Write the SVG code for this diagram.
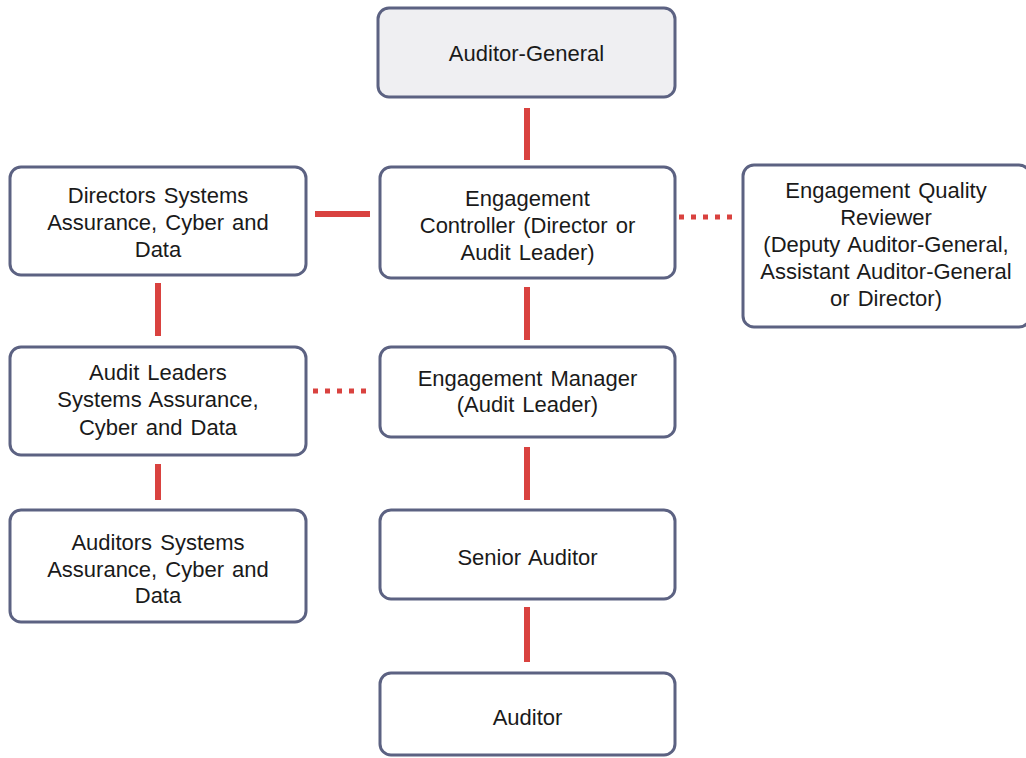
<svg xmlns="http://www.w3.org/2000/svg" width="1026" height="758" viewBox="0 0 1026 758">
<style>
.box{fill:#ffffff;stroke:#5c6282;stroke-width:3}
.top{fill:#efeff2}
.t{font-family:"Liberation Sans",Arial,sans-serif;font-size:22px;word-spacing:2px;fill:#1a1a1a;text-anchor:middle}
.c{stroke:#d9423f;stroke-width:6;fill:none}
.d{stroke:#d9423f;stroke-width:5;fill:none;stroke-dasharray:5 7}
</style>
<rect width="1026" height="758" fill="#ffffff"/>
<g id="connectors">
<line class="c" x1="527" y1="108" x2="527" y2="160"/>
<line class="c" x1="315" y1="214" x2="370" y2="214"/>
<line class="d" x1="679" y1="217" x2="734" y2="217"/>
<line class="c" x1="527" y1="287" x2="527" y2="340"/>
<line class="c" x1="158" y1="283" x2="158" y2="336"/>
<line class="d" x1="313" y1="391" x2="368" y2="391"/>
<line class="c" x1="158" y1="464" x2="158" y2="500"/>
<line class="c" x1="527" y1="447" x2="527" y2="500"/>
<line class="c" x1="527" y1="607" x2="527" y2="662"/>
</g>
<g id="auditor-general">
<rect class="box top" x="378" y="8" width="297" height="89" rx="11"/>
<text class="t" x="526.5" y="61">Auditor-General</text>
</g>
<g id="directors">
<rect class="box" x="10" y="167" width="296" height="108" rx="11"/>
<text class="t" x="158" y="203">Directors Systems</text>
<text class="t" x="158" y="230">Assurance, Cyber and</text>
<text class="t" x="158" y="257">Data</text>
</g>
<g id="engagement-controller">
<rect class="box" x="380" y="167" width="295" height="111" rx="11"/>
<text class="t" x="527.5" y="206">Engagement</text>
<text class="t" x="527.5" y="233">Controller (Director or</text>
<text class="t" x="527.5" y="260">Audit Leader)</text>
</g>
<g id="quality-reviewer">
<rect class="box" x="743" y="165" width="287" height="162" rx="11"/>
<text class="t" x="886" y="198">Engagement Quality</text>
<text class="t" x="886" y="225">Reviewer</text>
<text class="t" x="886" y="252">(Deputy Auditor-General,</text>
<text class="t" x="886" y="279">Assistant Auditor-General</text>
<text class="t" x="886" y="306">or Director)</text>
</g>
<g id="audit-leaders">
<rect class="box" x="10" y="347" width="296" height="108" rx="11"/>
<text class="t" x="158" y="380">Audit Leaders</text>
<text class="t" x="158" y="407">Systems Assurance,</text>
<text class="t" x="158" y="435">Cyber and Data</text>
</g>
<g id="engagement-manager">
<rect class="box" x="380" y="347" width="295" height="90" rx="11"/>
<text class="t" x="527.5" y="386">Engagement Manager</text>
<text class="t" x="527.5" y="412">(Audit Leader)</text>
</g>
<g id="auditors">
<rect class="box" x="10" y="510" width="296" height="112" rx="11"/>
<text class="t" x="158" y="550">Auditors Systems</text>
<text class="t" x="158" y="577">Assurance, Cyber and</text>
<text class="t" x="158" y="603">Data</text>
</g>
<g id="senior-auditor">
<rect class="box" x="380" y="510" width="295" height="89" rx="11"/>
<text class="t" x="527.5" y="565">Senior Auditor</text>
</g>
<g id="auditor">
<rect class="box" x="380" y="673" width="295" height="82" rx="11"/>
<text class="t" x="527.5" y="725">Auditor</text>
</g>
</svg>
